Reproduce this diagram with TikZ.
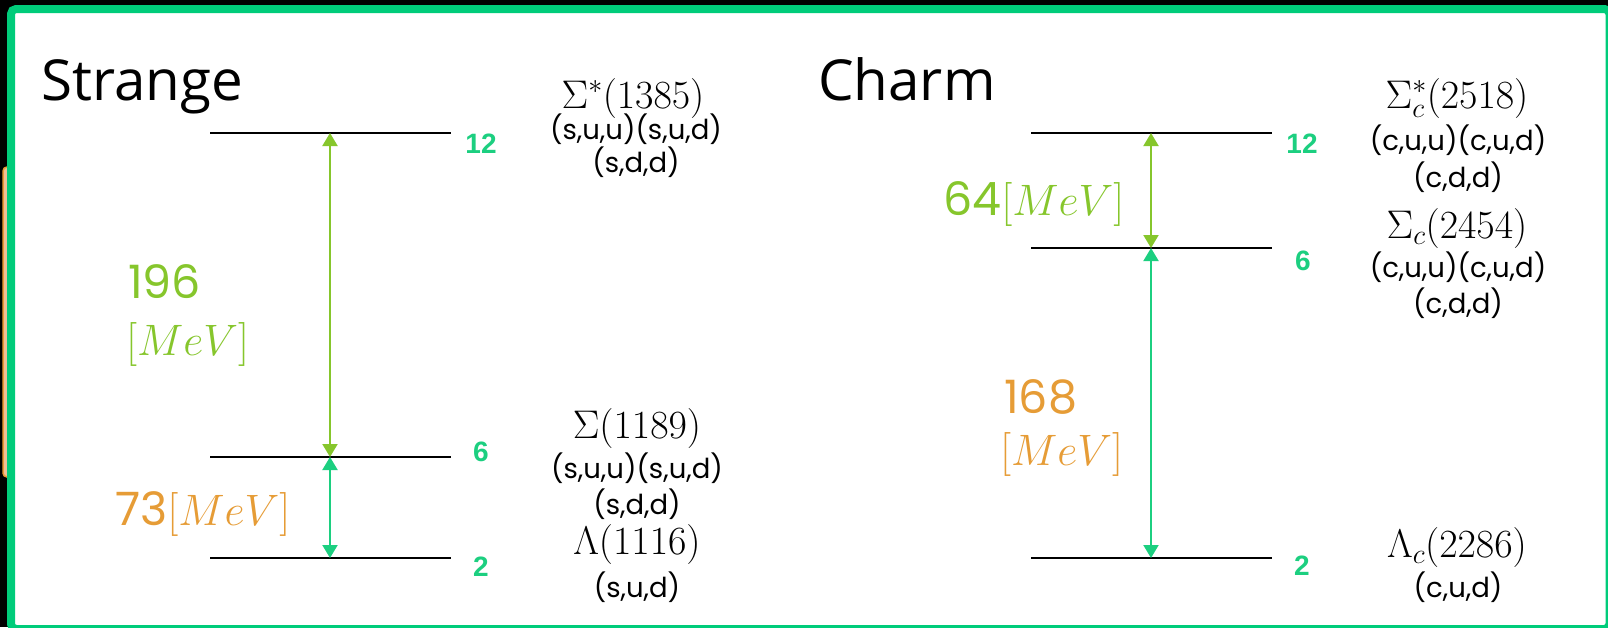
\RequirePackage{fix-cm}
\documentclass[tikz,border=0pt]{standalone}
\usepackage{fontspec}
\usetikzlibrary{arrows.meta}
\newfontfamily\titlefont{Open Sans}
\newfontfamily\geofont{Poppins}
\newfontfamily\numfont{Liberation Sans}
\definecolor{frameg}{RGB}{0,204,122}
\definecolor{lvlg}{RGB}{28,207,128}
\definecolor{ygreen}{RGB}{134,198,44}
\definecolor{orng}{RGB}{230,156,54}
\begin{document}
\begin{tikzpicture}[x=1pt,y=-1pt,
  lvl/.style={line width=2.5pt,black},
  deg/.style={font=\numfont\bfseries\fontsize{28}{30}\selectfont,text=lvlg,anchor=center,inner sep=0pt},
  ttl/.style={font=\titlefont\fontsize{56.5}{60}\selectfont,anchor=base west,inner sep=0pt},
  hadron/.style={font=\fontsize{40}{42}\selectfont,anchor=base,inner sep=0pt},
  quark/.style={font=\geofont\fontsize{27.5}{30}\selectfont,anchor=base,inner sep=0pt},
  gap/.style={font=\geofont\fontsize{46}{50}\selectfont,anchor=base west,inner sep=0pt},
  unit/.style={font=\fontsize{44}{48}\selectfont},
  garrow/.style={line width=2pt,{Triangle[width=15pt,length=13pt]}-{Triangle[width=15pt,length=13pt]}}
]
\useasboundingbox (0,0) rectangle (1608,627);
\fill[black] (0,0) rectangle (1608,627);
\draw[orng,line width=1.5pt,fill={rgb,255:red,240;green,190;blue,150},rounded corners=4pt] (3,167) rectangle (20,477);
\draw[frameg,line width=8pt,fill=white,rounded corners=5pt] (11,9) rectangle (1609.5,629);

% titles
\node[ttl] (tS) at (41,100) {Strange};
\node[ttl] (tC) at (818,100) {Charm};

% Strange levels
\coordinate (s12a) at (210,133); \coordinate (s12b) at (451,133);
\coordinate (s6a) at (210,457);  \coordinate (s6b) at (451,457);
\coordinate (s2a) at (210,558);  \coordinate (s2b) at (451,558);
\draw[lvl] (s12a) -- (s12b);
\draw[lvl] (s6a) -- (s6b);
\draw[lvl] (s2a) -- (s2b);
\coordinate (sx12) at (330,133); \coordinate (sx6) at (330,457); \coordinate (sx2) at (330,558);
\draw[garrow,ygreen] (sx12) -- (sx6);
\draw[garrow,lvlg] (sx6) -- (sx2);
\node[deg] (sd12) at (481,144) {12};
\node[deg] (sd6) at (481,452) {6};
\node[deg] (sd2) at (481,567) {2};
\node[gap,text=ygreen] (g196) at (128,298) {196};
\node[gap,unit,text=ygreen] (g196u) at (126,355) {$[MeV]$};
\node[gap,text=orng] (g73) at (115,525) {73{\fontsize{44}{48}\selectfont$[MeV]$}};

\node[hadron] (h1385) at (633,108) {$\Sigma^{*}(1385)$};
\node[quark] (q1385a) at (636,139) {(s,u,u)(s,u,d)};
\node[quark] (q1385b) at (636,172) {(s,d,d)};
\node[hadron] (h1189) at (637,438) {$\Sigma(1189)$};
\node[quark] (q1189a) at (637,478) {(s,u,u)(s,u,d)};
\node[quark] (q1189b) at (637,514) {(s,d,d)};
\node[hadron] (h1116) at (637,554) {$\Lambda(1116)$};
\node[quark] (q1116) at (637,597) {(s,u,d)};

% Charm levels
\coordinate (c12a) at (1031,133); \coordinate (c12b) at (1272,133);
\coordinate (c6a) at (1031,248);  \coordinate (c6b) at (1272,248);
\coordinate (c2a) at (1031,558);  \coordinate (c2b) at (1272,558);
\draw[lvl] (c12a) -- (c12b);
\draw[lvl] (c6a) -- (c6b);
\draw[lvl] (c2a) -- (c2b);
\coordinate (cx12) at (1151,133); \coordinate (cx6) at (1151,248); \coordinate (cx2) at (1151,558);
\draw[garrow,ygreen] (cx12) -- (cx6);
\draw[garrow,lvlg] (cx6) -- (cx2);
\node[deg] (cd12) at (1302,144) {12};
\node[deg] (cd6) at (1303,261) {6};
\node[deg] (cd2) at (1302,566) {2};
\node[gap,text=ygreen] (g64) at (943,215) {64{\fontsize{44}{48}\selectfont$[MeV]$}};
\node[gap,text=orng] (g168) at (1004,413) {168};
\node[gap,unit,text=orng] (g168u) at (1000,465) {$[MeV]$};

\node[hadron] (h2518) at (1457,108) {$\Sigma_c^{*}(2518)$};
\node[quark] (q2518a) at (1458,150) {(c,u,u)(c,u,d)};
\node[quark] (q2518b) at (1458,187) {(c,d,d)};
\node[hadron] (h2454) at (1457,238) {$\Sigma_c(2454)$};
\node[quark] (q2454a) at (1458,277) {(c,u,u)(c,u,d)};
\node[quark] (q2454b) at (1458,313) {(c,d,d)};
\node[hadron] (h2286) at (1457,557) {$\Lambda_c(2286)$};
\node[quark] (q2286) at (1458,597) {(c,u,d)};
\end{tikzpicture}
\end{document}
